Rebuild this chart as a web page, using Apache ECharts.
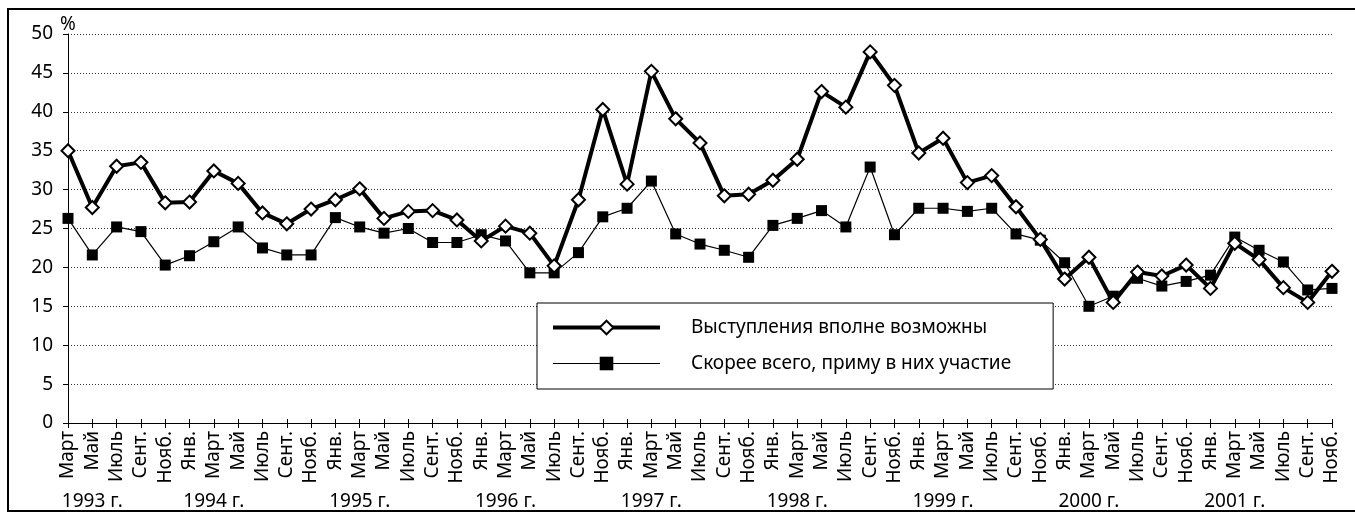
<!DOCTYPE html>
<html>
<head>
<meta charset="utf-8">
<script src="https://cdn.jsdelivr.net/npm/echarts@6/dist/echarts.min.js"></script>
<style>
    html, body { margin: 0; padding: 0; background: #fff; }
    #chart-container { width: 1355px; height: 513px; }
</style>
</head>
<body>
<div id="chart-container"></div>
<script>
// месяцы опросов, март 1993 - ноябрь 2001
var months = [
    'Март', 'Май', 'Июль', 'Сент.', 'Нояб.',
    'Янв.', 'Март', 'Май', 'Июль', 'Сент.', 'Нояб.',
    'Янв.', 'Март', 'Май', 'Июль', 'Сент.', 'Нояб.',
    'Янв.', 'Март', 'Май', 'Июль', 'Сент.', 'Нояб.',
    'Янв.', 'Март', 'Май', 'Июль', 'Сент.', 'Нояб.',
    'Янв.', 'Март', 'Май', 'Июль', 'Сент.', 'Нояб.',
    'Янв.', 'Март', 'Май', 'Июль', 'Сент.', 'Нояб.',
    'Янв.', 'Март', 'Май', 'Июль', 'Сент.', 'Нояб.',
    'Янв.', 'Март', 'Май', 'Июль', 'Сент.', 'Нояб.'
];

// подписи годов и номер месяца, под которым они стоят
var yearLabels = ['1993 г.', '1994 г.', '1995 г.', '1996 г.', '1997 г.', '1998 г.', '1999 г.', '2000 г.', '2001 г.'];
var yearLabelAt = [1, 6, 12, 18, 24, 30, 36, 42, 48];

var seriesNames = ['Выступления вполне возможны', 'Скорее всего, приму в них участие'];

var possible = [
    35.0, 27.7, 33.0, 33.5, 28.3,
    28.4, 32.4, 30.8, 27.0, 25.6, 27.5,
    28.7, 30.1, 26.3, 27.2, 27.3, 26.1,
    23.4, 25.3, 24.4, 20.2, 28.7, 40.3,
    30.7, 45.2, 39.1, 36.0, 29.2, 29.4,
    31.2, 33.9, 42.6, 40.6, 47.7, 43.4,
    34.7, 36.6, 30.9, 31.8, 27.8, 23.6,
    18.5, 21.3, 15.5, 19.4, 18.9, 20.3,
    17.3, 23.1, 21.0, 17.4, 15.5, 19.5
];

var participate = [
    26.3, 21.6, 25.2, 24.6, 20.3,
    21.5, 23.3, 25.2, 22.5, 21.6, 21.6,
    26.4, 25.2, 24.4, 25.0, 23.2, 23.2,
    24.2, 23.4, 19.3, 19.3, 21.9, 26.5,
    27.6, 31.1, 24.3, 23.0, 22.2, 21.3,
    25.4, 26.3, 27.3, 25.2, 32.9, 24.2,
    27.6, 27.6, 27.2, 27.6, 24.3, 23.5,
    20.6, 15.0, 16.3, 18.6, 17.6, 18.2,
    19.0, 23.9, 22.2, 20.7, 17.1, 17.3
];

var FONT = '"Noto Sans", "DejaVu Sans", sans-serif';
var FS = 19;

var myChart = echarts.init(document.getElementById('chart-container'));

var option = {
    animation: false,
    backgroundColor: '#fff',
    textStyle: { fontFamily: FONT, color: '#000' },
    grid: { left: 68, right: 23, top: 34, bottom: 90 },
    // рамка вокруг рисунка
    graphic: [{
        type: 'rect',
        shape: { x: 8, y: 9, width: 1400, height: 502 },
        style: { fill: 'none', stroke: '#000', lineWidth: 2 },
        silent: true
    }],
    legend: {
        orient: 'vertical',
        left: 537,
        top: 303,
        itemWidth: 107,
        itemHeight: 17,
        itemGap: 17,
        padding: [15, 42, 16, 14],
        borderColor: '#000',
        borderWidth: 1,
        backgroundColor: '#fff',
        textStyle: { fontFamily: FONT, fontSize: FS, color: '#000', padding: [0, 0, 0, 26] },
        data: [{
            name: seriesNames[0],
            lineStyle: { color: '#000', width: 4 },
            itemStyle: { color: '#fff', borderColor: '#000', borderWidth: 2 }
        }, {
            name: seriesNames[1],
            lineStyle: { color: '#000', width: 1.2 },
            itemStyle: { color: '#000' }
        }]
    },
    xAxis: [{
        type: 'category',
        data: months,
        boundaryGap: false,
        axisLine: { lineStyle: { color: '#000', width: 1 } },
        axisTick: { interval: 0, length: 5, lineStyle: { color: '#000' } },
        axisLabel: {
            interval: 0,
            rotate: 90,
            margin: 8,
            fontSize: FS,
            color: '#000',
            fontFamily: FONT
        },
        splitLine: { show: false }
    }, {
        // засечки внутрь, чтобы получился крестик
        type: 'category',
        data: months,
        boundaryGap: false,
        position: 'bottom',
        axisLine: { show: false },
        axisTick: { interval: 0, inside: true, length: 4, lineStyle: { color: '#000' } },
        axisLabel: { show: false }
    }, {
        // строка с годами
        type: 'category',
        data: months,
        boundaryGap: false,
        position: 'bottom',
        offset: 69,
        axisLine: { show: false },
        axisTick: { show: false },
        axisLabel: {
            interval: 0,
            margin: 0,
            fontSize: FS,
            color: '#000',
            fontFamily: FONT,
            formatter: function (value, index) {
                var k = yearLabelAt.indexOf(index);
                return k >= 0 ? yearLabels[k] : '';
            }
        }
    }],
    yAxis: {
        type: 'value',
        min: 0,
        max: 50,
        interval: 5,
        name: '%',
        nameGap: 0,
        nameTextStyle: { fontSize: FS, color: '#000', fontFamily: FONT },
        axisLine: { show: true, lineStyle: { color: '#000', width: 1 } },
        axisTick: { show: true, length: 5, lineStyle: { color: '#000' } },
        axisLabel: { margin: 15, fontSize: FS, color: '#000', fontFamily: FONT },
        splitLine: { show: true, lineStyle: { color: '#333', width: 1, type: [1, 2] } }
    },
    series: [{
        name: seriesNames[0],
        type: 'line',
        data: possible,
        z: 3,
        symbol: 'diamond',
        symbolSize: 13,
        lineStyle: { color: '#000', width: 4 },
        itemStyle: { color: '#fff', borderColor: '#000', borderWidth: 2 }
    }, {
        name: seriesNames[1],
        type: 'line',
        data: participate,
        z: 2,
        symbol: 'rect',
        symbolSize: 11,
        lineStyle: { color: '#000', width: 1.2 },
        itemStyle: { color: '#000', borderColor: '#000', borderWidth: 0 }
    }]
};

myChart.setOption(option);
</script>
</body>
</html>
